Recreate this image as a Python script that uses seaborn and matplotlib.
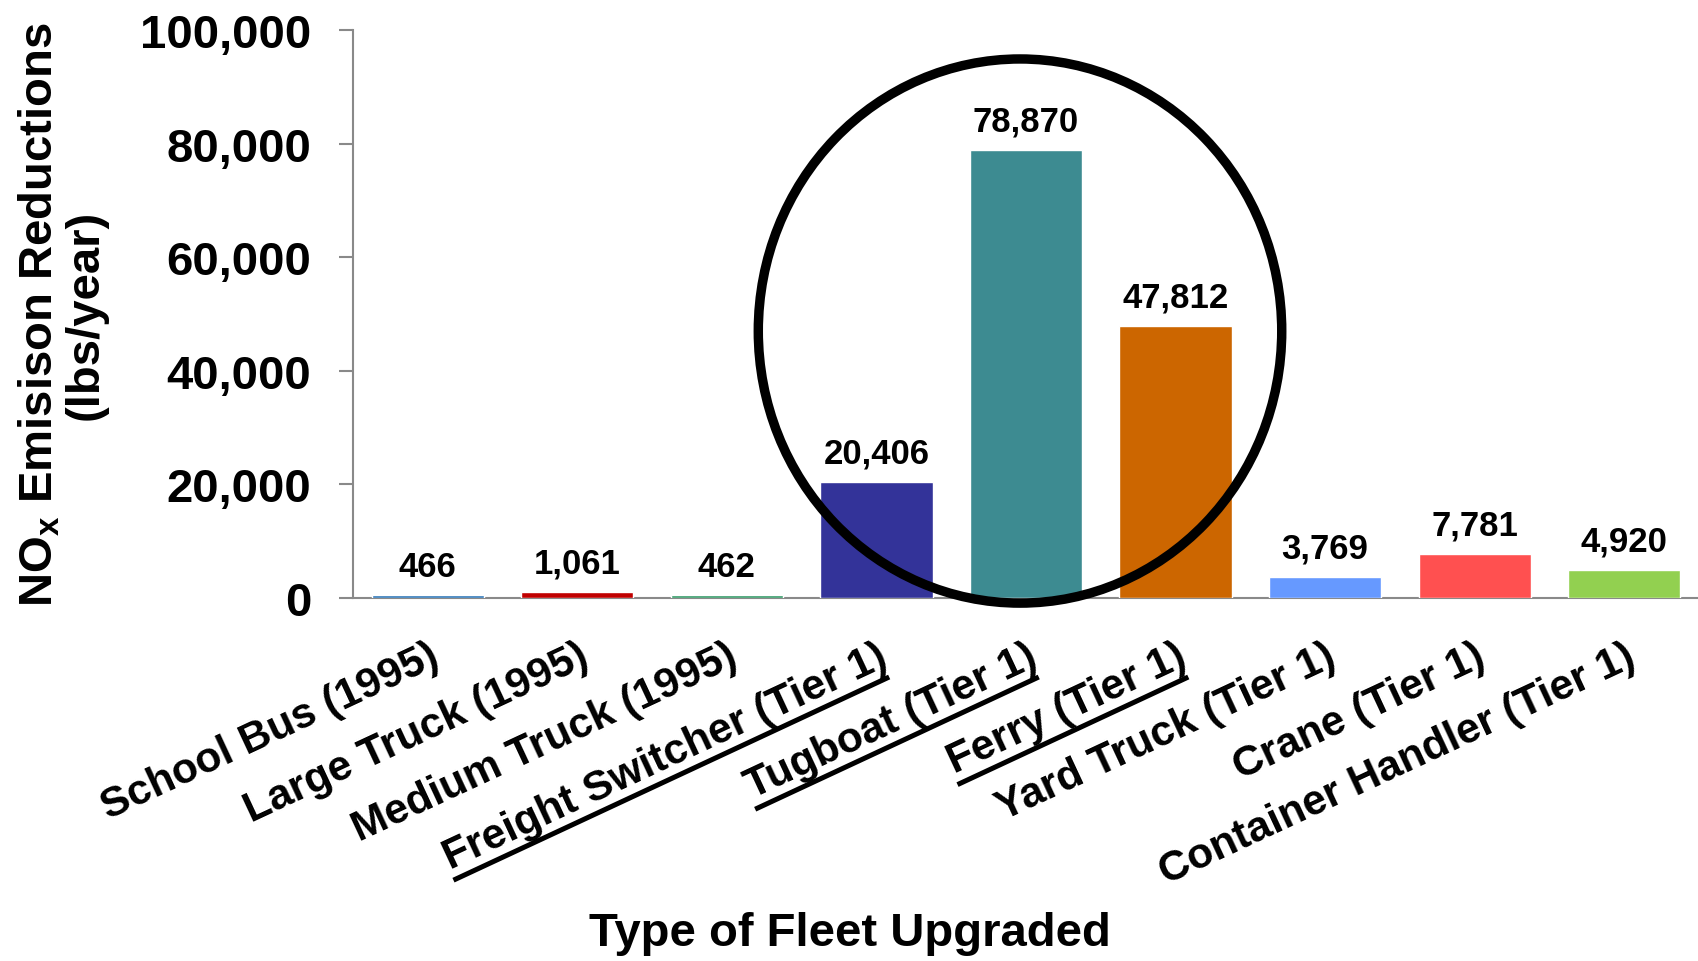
import matplotlib
matplotlib.use("Agg")
import numpy as np
import pandas as pd
import matplotlib.pyplot as plt
import seaborn as sns
from matplotlib.patches import Ellipse
from matplotlib.lines import Line2D
from matplotlib.text import Text

# ---------------- data ----------------
categories = ["School Bus (1995)", "Large Truck (1995)", "Medium Truck (1995)",
              "Freight Switcher (Tier 1)", "Tugboat (Tier 1)", "Ferry (Tier 1)",
              "Yard Truck (Tier 1)", "Crane (Tier 1)", "Container Handler (Tier 1)"]
values = [466, 1061, 462, 20406, 78870, 47812, 3769, 7781, 4920]
colors = ["#2E75B6", "#C00000", "#339966", "#333399", "#3D8B91",
          "#CC6600", "#6699FF", "#FF5050", "#92D050"]
underlined = ["Freight Switcher (Tier 1)", "Tugboat (Tier 1)", "Ferry (Tier 1)"]
y_ticks = [0, 20000, 40000, 60000, 80000, 100000]

# ---------------- style ----------------
sns.set_style("white")
plt.rcParams['font.family'] = ['Liberation Sans', 'DejaVu Sans']
plt.rcParams['font.weight'] = 'bold'
plt.rcParams['text.color'] = 'black'
plt.rcParams['axes.labelcolor'] = 'black'
plt.rcParams['xtick.color'] = 'black'
plt.rcParams['ytick.color'] = 'black'
plt.rcParams['mathtext.fontset'] = 'custom'
plt.rcParams['mathtext.rm'] = 'Liberation Sans:bold'
plt.rcParams['mathtext.bf'] = 'Liberation Sans:bold'
plt.rcParams['mathtext.it'] = 'Liberation Sans:bold'

W, H = 1699, 962
fig = plt.figure(figsize=(W / 100, H / 100), dpi=100)
ax = fig.add_axes([353 / W, 1 - 599 / H, 1 - 353 / W, (599 - 31) / H])

df = pd.DataFrame({"fleet": categories, "nox": values})
sns.barplot(data=df, x="fleet", y="nox", hue="fleet", palette=colors,
            legend=False, width=0.75, saturation=1, ax=ax, zorder=3)

ax.set_xlim(-0.5, 8.5)
ax.set_ylim(0, 100000)
ax.set_yticks(y_ticks)
ax.set_yticklabels([f"{v:,}" for v in y_ticks], fontsize=34, fontweight='bold')

rot = 25
ax.set_xticks(range(len(categories)))
ax.set_xticklabels(categories, rotation=rot, ha='right', va='top',
                   rotation_mode='anchor', fontsize=30.5, fontweight='bold')

axis_gray = "#898989"
for s in ["top", "right"]:
    ax.spines[s].set_visible(False)
for s in ["left", "bottom"]:
    ax.spines[s].set_visible(True)
    ax.spines[s].set_color(axis_gray)
    ax.spines[s].set_linewidth(1.5)

ax.tick_params(axis='y', left=True, length=10, width=1.5, color=axis_gray,
               pad=20, direction='out', labelcolor='black')
ax.tick_params(axis='x', bottom=False, length=0, pad=27, labelcolor='black')

ax.set_xlabel("")
ax.set_ylabel("NO$_\\mathbf{x}$ Emisison Reductions\n(lbs/year)", fontsize=34,
              fontweight='bold', linespacing=1.05, va='center',
              multialignment='center', color='black')
ax.yaxis.set_label_coords(-0.216, 0.5)

fig.text(0.5, 1 - 934 / H, "Type of Fleet Upgraded", ha='center', va='center',
         fontsize=34, fontweight='bold', color='black')

for c in ax.containers:
    ax.bar_label(c, labels=[f"{v:,.0f}" for v in c.datavalues], padding=9,
                 fontsize=25, fontweight='bold', color='black')

# highlight circle around the marine / rail group
ax.add_patch(Ellipse((3.96, 47000), width=3.50, height=95800, fill=False,
                     lw=6.8, ec='black', clip_on=False, zorder=5))

# underlines under selected tick labels
fig.canvas.draw()
renderer = fig.canvas.get_renderer()
th = np.deg2rad(rot)
u = np.array([np.cos(th), np.sin(th)])
n = np.array([np.sin(th), -np.cos(th)])
for lbl in ax.get_xticklabels():
    s = lbl.get_text()
    if s not in underlined:
        continue
    P = lbl.get_transform().transform(lbl.get_position())
    t = Text(0, 0, s, fontproperties=lbl.get_fontproperties())
    t.set_figure(fig)
    bb = t.get_window_extent(renderer)
    w, h = bb.width, bb.height
    p0 = P - (w + 2) * u + (h + 3) * n
    p1 = P - 6 * u + (h + 3) * n
    pts = fig.transFigure.inverted().transform(np.vstack([p0, p1]))
    fig.add_artist(Line2D(pts[:, 0], pts[:, 1], color='black', lw=3.6,
                          transform=fig.transFigure, solid_capstyle='butt'))

fig.savefig("out.png", dpi=100)
